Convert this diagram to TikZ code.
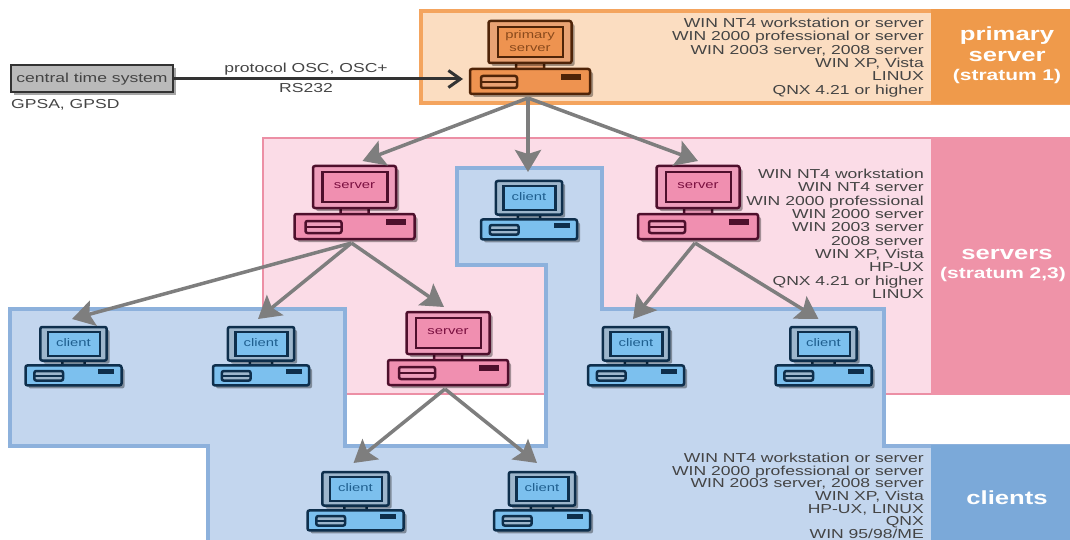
\documentclass[tikz,border=0pt]{standalone}
\usepackage{fontspec}
\setmainfont[FakeStretch=1.35]{Liberation Sans}
\usetikzlibrary{arrows.meta,shadows}

\definecolor{prifill}{HTML}{EE9350}
\definecolor{priframe}{HTML}{E9A273}
\definecolor{priedge}{HTML}{4F2408}
\definecolor{pritext}{HTML}{8A4A1C}
\definecolor{srvfill}{HTML}{F08FB0}
\definecolor{srvframe}{HTML}{EE9DBB}
\definecolor{srvedge}{HTML}{4E0F2C}
\definecolor{srvtext}{HTML}{7A1040}
\definecolor{clifill}{HTML}{7CC0EE}
\definecolor{cliframe}{HTML}{9DB6CC}
\definecolor{cliedge}{HTML}{0E2F4C}
\definecolor{clitext}{HTML}{1F5F8F}
\definecolor{orangezone}{HTML}{FBDDC1}
\definecolor{orangeline}{HTML}{F4A45E}
\definecolor{orangeband}{HTML}{EF9A4B}
\definecolor{pinkzone}{HTML}{FBDCE7}
\definecolor{pinkline}{HTML}{EC8FA5}
\definecolor{pinkband}{HTML}{EF93A8}
\definecolor{bluezone}{HTML}{C3D6EE}
\definecolor{blueline}{HTML}{8DB1DC}
\definecolor{blueband}{HTML}{7BA9D9}
\definecolor{txtgrey}{HTML}{444444}
\definecolor{arrowgrey}{HTML}{7E7E7E}

\tikzset{
  pcshadow/.style={drop shadow={shadow xshift=3pt,shadow yshift=-3pt,fill=black,opacity=.35}},
  pcpart/.style={line width=2.5pt,rounded corners=2pt},
  pcbox/.style={inner sep=0pt,outer sep=0pt},
  pclabel/.style={inner sep=0pt,align=center,font=\fontsize{11}{12.5}\selectfont},
  oslist/.style={anchor=north east,inner sep=0pt,align=right,text=txtgrey,font=\fontsize{13}{13.3}\selectfont},
  plaintxt/.style={inner sep=0pt,text=txtgrey,font=\fontsize{13}{13.3}\selectfont},
  bandtxt/.style={inner sep=0pt,text=white,font=\bfseries\fontsize{19}{22}\selectfont},
  bandsub/.style={inner sep=0pt,text=white,font=\bfseries\fontsize{15.5}{18}\selectfont},
  feed/.style={-{Stealth[length=22pt,width=26pt,inset=4pt]},line width=3.5pt,draw=arrowgrey},
}

% name, x, top y, scale, palette, label
\newcommand{\computer}[6]{
  \begin{scope}[shift={(#2,#3)},scale=#4]
    \draw[pcpart,draw=#5edge,fill=#5frame] (-14,38) rectangle (14,52);
    \draw[pcpart,pcshadow,draw=#5edge,fill=#5fill] (-60,48) rectangle (60,73);
    \draw[pcpart,draw=#5edge,fill=#5frame] (-49,55) rectangle (-13,67);
    \draw[line width=2pt,draw=#5edge] (-49,61) -- (-13,61);
    \fill[#5edge] (31,53) rectangle (51,59);
    \draw[pcpart,pcshadow,draw=#5edge,fill=#5frame] (-41.5,0) rectangle (41.5,42);
    \draw[line width=2.5pt,draw=#5edge,fill=#5fill] (-32,6) rectangle (33,36);
    \node[pclabel,text=#5text] (#1lbl) at (0,20) {#6};
  \end{scope}
  \node[pcbox,minimum width={#4*120pt},minimum height={#4*73pt+9pt}] (#1) at (#2,{#3-5+(#4*73+9)/2}) {};
}

\begin{document}
\begin{tikzpicture}[x=1pt,y=-1pt]
    \useasboundingbox (0,0) rectangle (1070,540);

    % zones
    \draw[line width=2.4pt,draw=pinkline,fill=pinkzone] (263,138) rectangle (1070,394);
    \draw[line width=3.2pt,draw=blueline,fill=bluezone] (10,309) -- (345,309) -- (345,446) -- (546,446) -- (546,265) -- (457,265)
        -- (457,168) -- (602,168) -- (602,309) -- (884,309) -- (884,446) -- (1072,446) -- (1072,545) -- (208,545) -- (208,446) -- (10,446) -- cycle;
    \draw[line width=3.2pt,draw=orangeline,fill=orangezone] (421,11) rectangle (1072,103);
    \fill[orangeband] (931,9.5) rectangle (1070,104);
    \fill[pinkband] (931,137) rectangle (1070,395);
    \fill[blueband] (931,445) rectangle (1070,540);

    % band titles
    \node[bandtxt] (primt1) at (1007,36) {primary};
    \node[bandtxt] (primt2) at (1007,56) {server};
    \node[bandsub] (primt3) at (1007,76) {(stratum 1)};
    \node[bandtxt] (servt1) at (1007,254) {servers};
    \node[bandsub] (servt2) at (1003,274) {(stratum 2,3)};
    \node[bandtxt] (clit1) at (1007,498) {clients};

    % system lists
    \node[oslist] (primos) at (924,18) {WIN NT4 workstation or server\\WIN 2000 professional or server\\WIN 2003 server, 2008 server\\WIN XP, Vista\\LINUX\\QNX 4.21 or higher};
    \node[oslist] (servos) at (924,169) {WIN NT4 workstation\\WIN NT4 server\\WIN 2000 professional\\WIN 2000 server\\WIN 2003 server\\2008 server\\WIN XP, Vista\\HP-UX\\QNX 4.21 or higher\\LINUX};
    \node[oslist,font=\fontsize{13}{12.6}\selectfont] (clios) at (924,453) {WIN NT4 workstation or server\\WIN 2000 professional or server\\WIN 2003 server, 2008 server\\WIN XP, Vista\\HP-UX, LINUX\\QNX\\WIN 95/98/ME};

    % computers
    \computer{prim}{530}{21}{1}{pri}{primary\\server}
    \computer{srvleft}{354.5}{166}{1}{srv}{server}
    \computer{srvright}{698}{166}{1}{srv}{server}
    \computer{srvlow}{448}{312}{1}{srv}{server}
    \computer{cltop}{529}{181}{.8}{cli}{client}
    \computer{clone}{73.5}{327}{.8}{cli}{client}
    \computer{cltwo}{261}{327}{.8}{cli}{client}
    \computer{clthree}{636}{327}{.8}{cli}{client}
    \computer{clfour}{823.5}{327}{.8}{cli}{client}
    \computer{clfive}{355.5}{472}{.8}{cli}{client}
    \computer{clsix}{542}{472}{.8}{cli}{client}

    % time source
    \node[draw=black!80,line width=2pt,fill=black!27,minimum width=162pt,minimum height=27pt,inner sep=0pt,pcshadow,text=txtgrey,font=\fontsize{13}{13.3}\selectfont] (ctime) at (92,79) {central time system};
    \node[plaintxt,anchor=west] (gps) at (11,105) {GPSA, GPSD};
    \node[plaintxt] (osc) at (306,69) {protocol OSC, OSC+};
    \node[plaintxt] (rs) at (306,88) {RS232};
    \draw[-{Straight Barb[length=12pt,width=17pt,line width=3pt]},line width=3pt,draw=black!80,shorten >=7pt] (ctime.east) -- (ctime.east -| prim.west);

    % feeds
    \draw[feed] ([xshift=-2pt]prim.south) -- ([xshift=8pt]srvleft.north);
    \draw[feed] ([xshift=-2pt]prim.south) -- ([xshift=-2pt,yshift=4pt]prim.south |- cltop.north);
    \draw[feed] ([xshift=-2pt]prim.south) -- (srvright.north);
    \draw[feed] ([xshift=-3pt]srvleft.south) -- ([xshift=-1.5pt,yshift=3pt]clone.north);
    \draw[feed] ([xshift=-3pt]srvleft.south) -- ([xshift=-3pt,yshift=3pt]cltwo.north);
    \draw[feed] ([xshift=-3pt]srvleft.south) -- ([xshift=-4pt]srvlow.north);
    \draw[feed] ([xshift=-3pt]srvright.south) -- ([xshift=-3pt,yshift=3pt]clthree.north);
    \draw[feed] ([xshift=-3pt]srvright.south) -- ([xshift=-5pt,yshift=3pt]clfour.north);
    \draw[feed] ([xshift=-3pt]srvlow.south) -- ([xshift=-2pt,yshift=4pt]clfive.north);
    \draw[feed] ([xshift=-3pt]srvlow.south) -- ([xshift=-5pt,yshift=4pt]clsix.north);
\end{tikzpicture}
\end{document}
